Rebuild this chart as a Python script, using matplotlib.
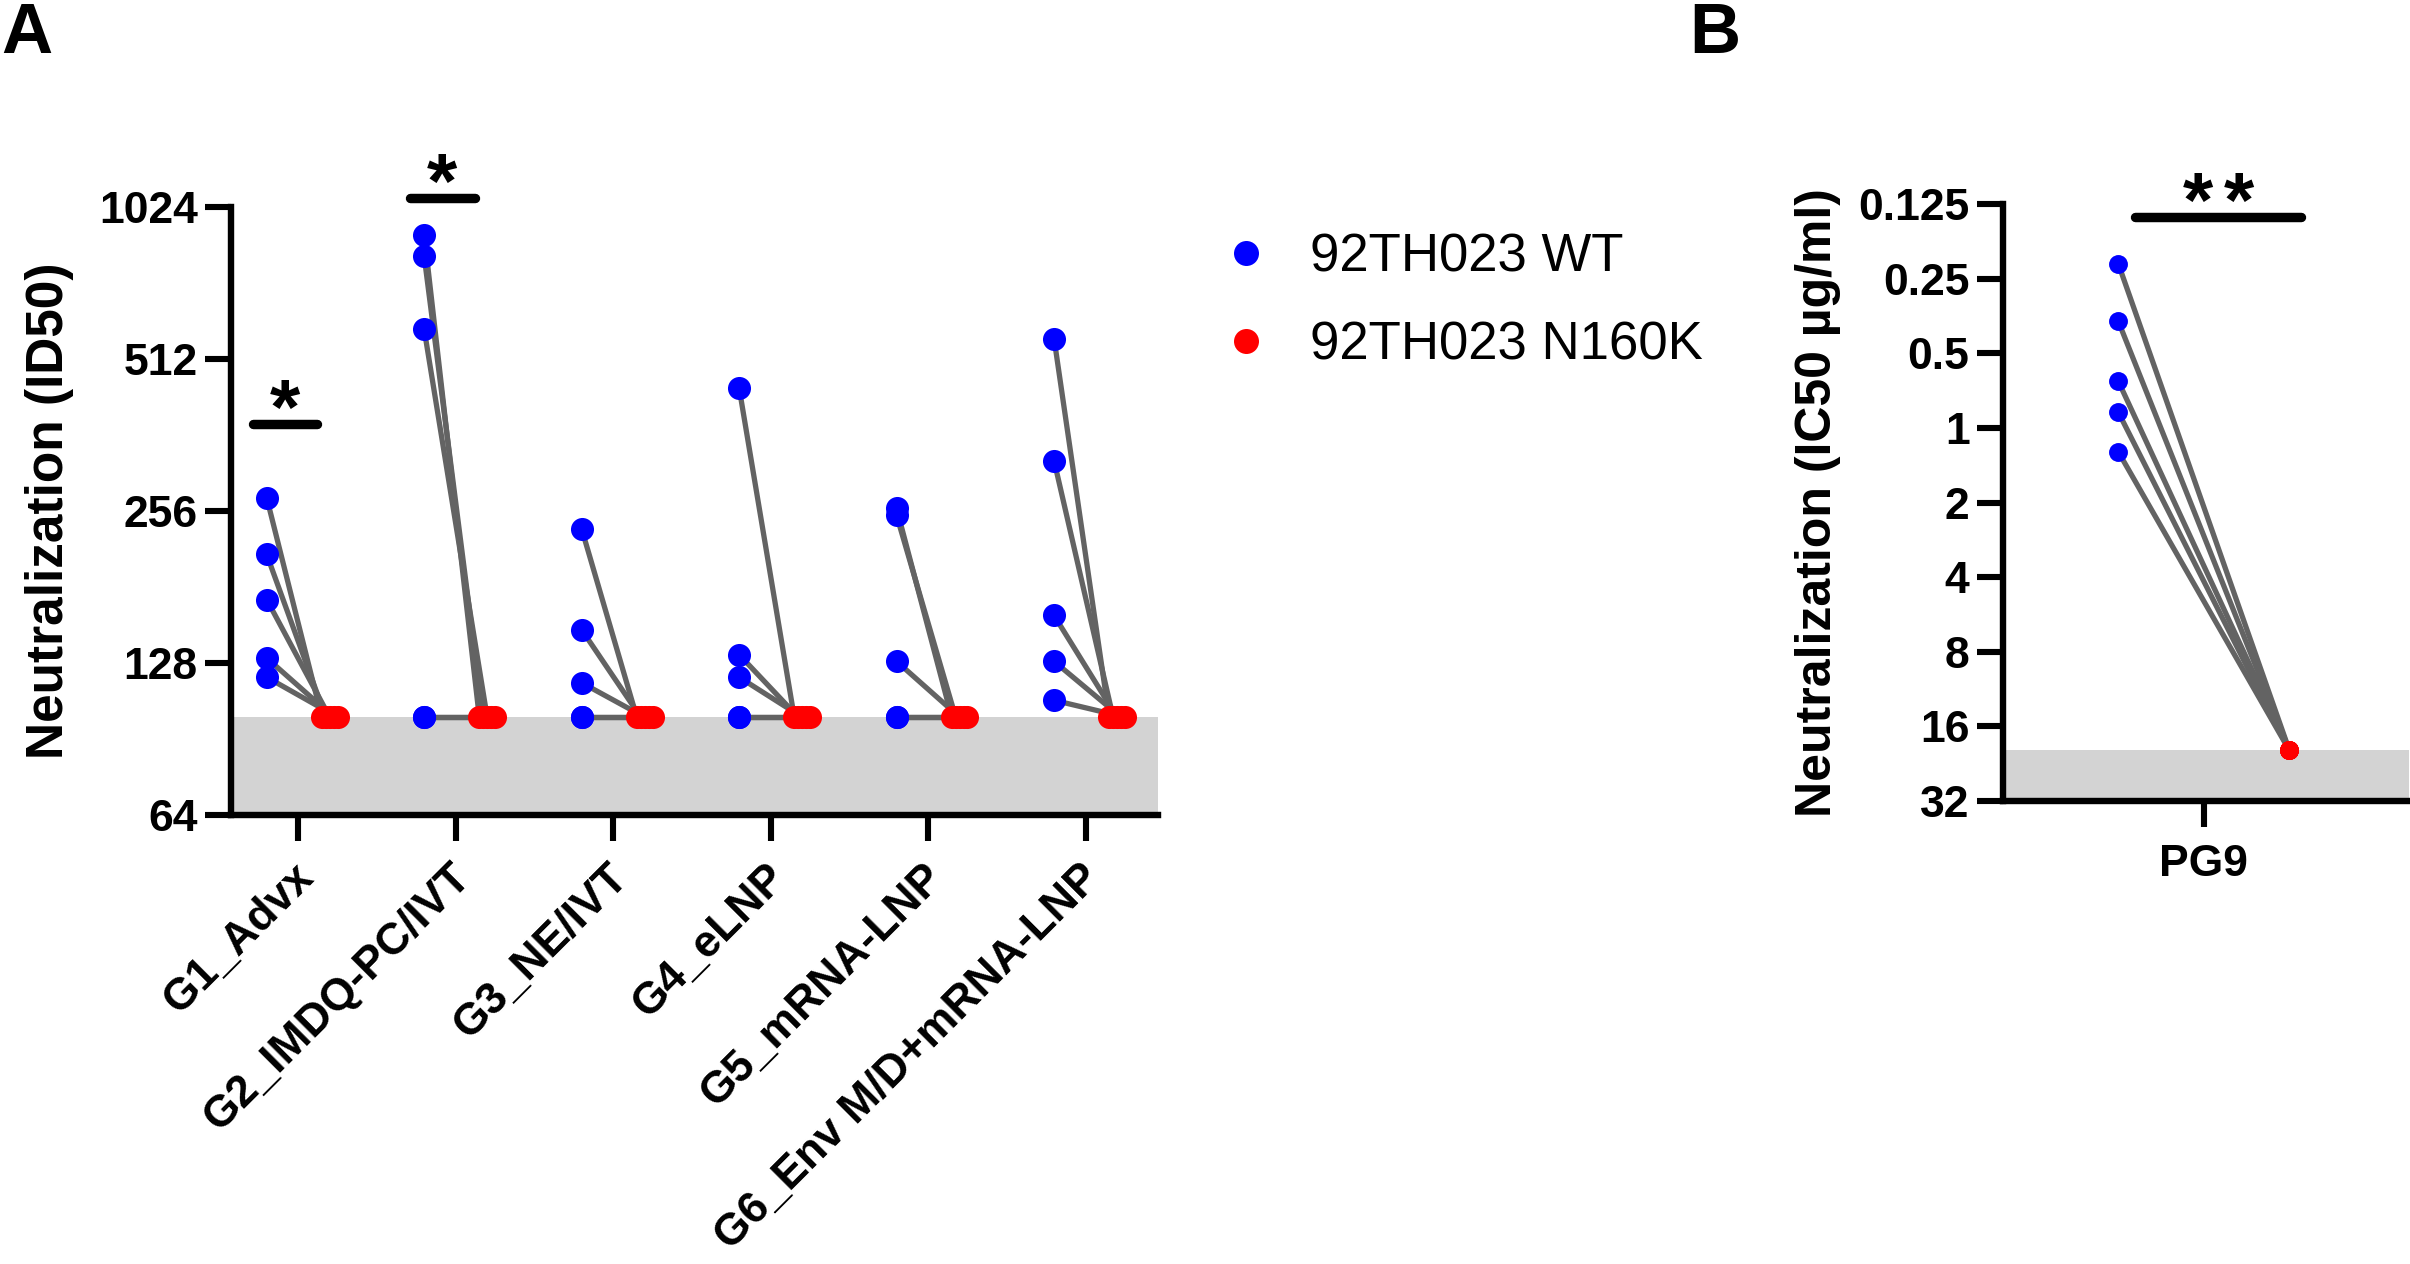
import matplotlib
matplotlib.use("Agg")
import matplotlib.pyplot as plt
import matplotlib.transforms as mtransforms
import numpy as np

# panel A: ID50 titres, 92TH023 WT vs N160K, per vaccine group
groups = ["G1_Advx", "G2_IMDQ-PC/IVT", "G3_NE/IVT", "G4_eLNP",
          "G5_mRNA-LNP", "G6_Env M/D+mRNA-LNP"]
wt_id50 = [
    [272, 210, 171, 131, 120],
    [903, 818, 586, 100, 100],
    [236, 149, 117, 100, 100],
    [449, 133, 120, 100, 100],
    [259, 251, 129, 100, 100],
    [562, 322, 159, 129, 108],
]
n160k_id50 = [
    [100, 100, 100, 100, 100],
    [100, 100, 100, 100, 100],
    [100, 100, 100, 100, 100],
    [100, 100, 100, 100, 100],
    [100, 100, 100, 100, 100],
    [100, 100, 100, 100, 100],
]
id50_limit = 100
id50_ticks = [64, 128, 256, 512, 1024]
# significance: (group index, bar height, label)
sig_a = [(0, 380, "*"), (1, 1067, "*")]

# panel B: PG9 IC50 (ug/ml)
pg9_wt = [0.218, 0.372, 0.649, 0.865, 1.25]
pg9_n160k = [20, 20, 20, 20, 20]
ic50_limit = 20
ic50_ticks = [0.125, 0.25, 0.5, 1, 2, 4, 8, 16, 32]
ic50_ticklabels = ["0.125", "0.25", "0.5", "1", "2", "4", "8", "16", "32"]
sig_b = (0.141, "**")

BLUE = "#0000ff"
RED = "#ff0000"
LINE = "#636363"
SHADE = "#d3d3d3"


def style_axis(ax):
    for s in ["top", "right"]:
        ax.spines[s].set_visible(False)
    for s in ["left", "bottom"]:
        ax.spines[s].set_linewidth(2.3)
    ax.tick_params(axis="both", which="major", length=9.5, width=2.2,
                   labelsize=16, pad=2.5)
    ax.tick_params(axis="both", which="minor", length=0)
    for lab in ax.get_yticklabels() + ax.get_xticklabels():
        lab.set_fontweight("bold")


def main():
    plt.rcParams["font.family"] = ["Liberation Sans", "DejaVu Sans"]

    fig = plt.figure(figsize=(12.05, 6.32), dpi=200)
    axA = fig.add_axes([0.0959, 0.3552, 0.3846, 0.481])
    axB = fig.add_axes([0.8311, 0.3663, 0.1685, 0.4723])

    # ---- panel A ----
    off = 0.2
    axA.axhspan(64, id50_limit, color=SHADE, zorder=0, lw=0)
    for i, (wt, mut) in enumerate(zip(wt_id50, n160k_id50)):
        n = len(wt)
        spread = np.linspace(-0.05, 0.05, n)
        xb = np.full(n, i - off)
        xr = i + off + spread
        for k in range(n):
            axA.plot([xb[k], xr[k]], [wt[k], mut[k]], color=LINE, lw=1.9,
                     zorder=2, solid_capstyle="butt")
        axA.plot(xb, wt, "o", color=BLUE, ms=8.3, mec="none", zorder=3)
        axA.plot(xr, mut, "o", color=RED, ms=8.3, mec="none", zorder=3)

    for gi, y, lab in sig_a:
        x0, x1 = gi - 0.29, gi + 0.12
        axA.plot([x0, x1], [y, y], color="black", lw=3.4,
                 solid_capstyle="round", clip_on=False, zorder=4)
        axA.annotate(lab, xy=((x0 + x1) / 2, y), xytext=(0, -3.5),
                     textcoords="offset points", ha="center", va="baseline",
                     fontsize=28, fontweight="bold", annotation_clip=False)

    axA.set_yscale("log", base=2)
    axA.set_ylim(64, 1024)
    axA.set_yticks(id50_ticks)
    axA.set_yticklabels([str(t) for t in id50_ticks])
    axA.set_xlim(-0.426, 5.46)
    axA.set_xticks(range(len(groups)))
    axA.set_xticklabels(groups, rotation=45, ha="right", va="top",
                        rotation_mode="anchor", fontsize=15)
    axA.set_ylabel("Neutralization (ID50)", fontsize=18.5, fontweight="bold")
    axA.yaxis.set_label_coords(-0.17, 0.5)
    style_axis(axA)
    axA.tick_params(axis="x", pad=5.5)
    shift = mtransforms.ScaledTranslation(-0.03, 0, fig.dpi_scale_trans)
    for lab in axA.get_xticklabels():
        lab.set_transform(lab.get_transform() + shift)

    handles = [
        plt.Line2D([], [], ls="none", marker="o", color=BLUE, ms=9, mec="none"),
        plt.Line2D([], [], ls="none", marker="o", color=RED, ms=9, mec="none"),
    ]
    fig.legend(handles, ["92TH023 WT", "92TH023 N160K"], loc="upper left",
               bbox_to_anchor=(0.506, 0.816), frameon=False, fontsize=19,
               handlelength=1.0, handletextpad=0.72, labelspacing=0.72,
               borderpad=0, borderaxespad=0)

    # ---- panel B ----
    axB.axhspan(ic50_limit, 32, color=SHADE, zorder=0, lw=0)
    for w, m in zip(pg9_wt, pg9_n160k):
        axB.plot([-0.5, 0.5], [w, m], color=LINE, lw=1.9, zorder=2)
    axB.plot(np.full(len(pg9_wt), -0.5), pg9_wt, "o", color=BLUE, ms=6.8,
             mec="none", zorder=3)
    axB.plot(np.full(len(pg9_n160k), 0.5), pg9_n160k, "o", color=RED, ms=6.8,
             mec="none", zorder=3)
    yb, labb = sig_b
    axB.plot([-0.40, 0.57], [yb, yb], color="black", lw=3.4,
             solid_capstyle="round", clip_on=False, zorder=4)
    for dx in (-0.12, 0.12):
        axB.annotate(labb[0], xy=(0.085 + dx, yb), xytext=(0, -3.5),
                     textcoords="offset points", ha="center", va="baseline",
                     fontsize=28, fontweight="bold", annotation_clip=False)

    axB.set_yscale("log", base=2)
    axB.set_ylim(32, 0.125)
    axB.set_yticks(ic50_ticks)
    axB.set_yticklabels(ic50_ticklabels)
    axB.set_xlim(-1.175, 1.2)
    axB.set_xticks([0])
    axB.set_xticklabels(["PG9"], fontsize=16)
    axB.set_ylabel("Neutralization (IC50 µg/ml)", fontsize=18,
                   fontweight="bold")
    axB.yaxis.set_label_coords(-0.40, 0.5)
    style_axis(axB)
    axB.tick_params(axis="x", pad=6)

    fig.text(0.0005, 0.958, "A", fontsize=25.5, fontweight="bold",
             ha="left", va="baseline")
    fig.text(0.722, 0.958, "B", fontsize=25.5, fontweight="bold",
             ha="right", va="baseline")

    fig.savefig("out.png", dpi=200)


if __name__ == '__main__':
    main()
